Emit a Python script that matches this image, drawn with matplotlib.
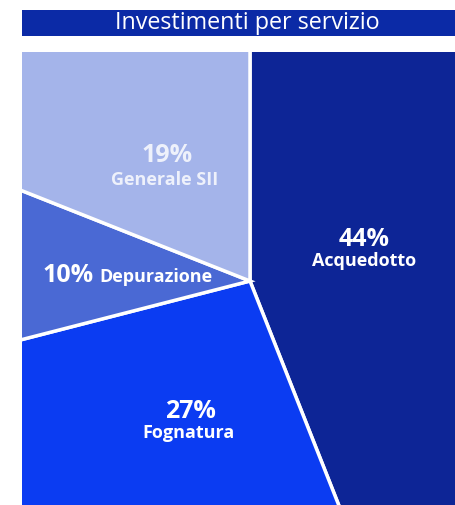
import matplotlib
matplotlib.use("Agg")
from matplotlib import pyplot as plt

# data
services = ["Acquedotto", "Fognatura", "Depurazione", "Generale SII"]
shares = [44, 27, 10, 19]
colors = ["#0d2596", "#0b3cf2", "#4a69d4", "#a4b4ea"]

plt.rcParams['font.family'] = ['Open Sans', 'DejaVu Sans']

W, H = 456, 505
fig = plt.figure(figsize=(W / 100, H / 100), dpi=100)

# pie area: pixels x 22..456, y 52..505, centre at (250, 281)
left, top = 22, 52
cx, cy = 250, 281
ax = fig.add_axes([left / W, 0, (W - left) / W, (H - top) / H])
wedges, _ = ax.pie(shares, colors=colors, startangle=90, counterclock=False,
                   radius=500, center=(0, 0),
                   wedgeprops=dict(edgecolor="white", linewidth=2.5))
for w in wedges:
    w.set_clip_on(True)
    w.set_clip_path(ax.patch)
ax.set_xlim(left - cx, W - cx)
ax.set_ylim(cy - H, cy - top)
ax.set_aspect("equal")
ax.axis("off")

def px(x, y):
    return x - cx, cy - y

big, small = 18, 13
txt = dict(color="white", fontweight="bold", ha="center", va="center")
ax.text(*px(364, 240), f"{shares[0]}%", fontsize=big, **txt)
ax.text(*px(364, 261), services[0], fontsize=small, **txt)
ax.text(*px(190, 411), f"{shares[1]}%", fontsize=big, **txt)
ax.text(*px(189, 433), services[1], fontsize=small, **txt)
ax.text(*px(167, 156), f"{shares[3]}%", fontsize=big, color="#eef1fb",
        fontweight="bold", ha="center", va="center")
ax.text(*px(165, 180), services[3], fontsize=small, color="#eef1fb",
        fontweight="bold", ha="center", va="center")
ax.text(*px(43, 275), f"{shares[2]}%", fontsize=big, color="white",
        fontweight="bold", ha="left", va="center")
ax.text(*px(99, 277), services[2], fontsize=small, color="white",
        fontweight="bold", ha="left", va="center")

# title bar
tax = fig.add_axes([left / W, 1 - 36 / H, (W - left) / W, 26 / H])
tax.set_facecolor("#0b2aa6")
tax.set_xticks([])
tax.set_yticks([])
for s in tax.spines.values():
    s.set_visible(False)
tax.text(0.519, 0.5, "Investimenti per servizio", color="white", fontsize=16.8,
         ha="center", va="center", transform=tax.transAxes)

fig.savefig("out.png", dpi=100)
